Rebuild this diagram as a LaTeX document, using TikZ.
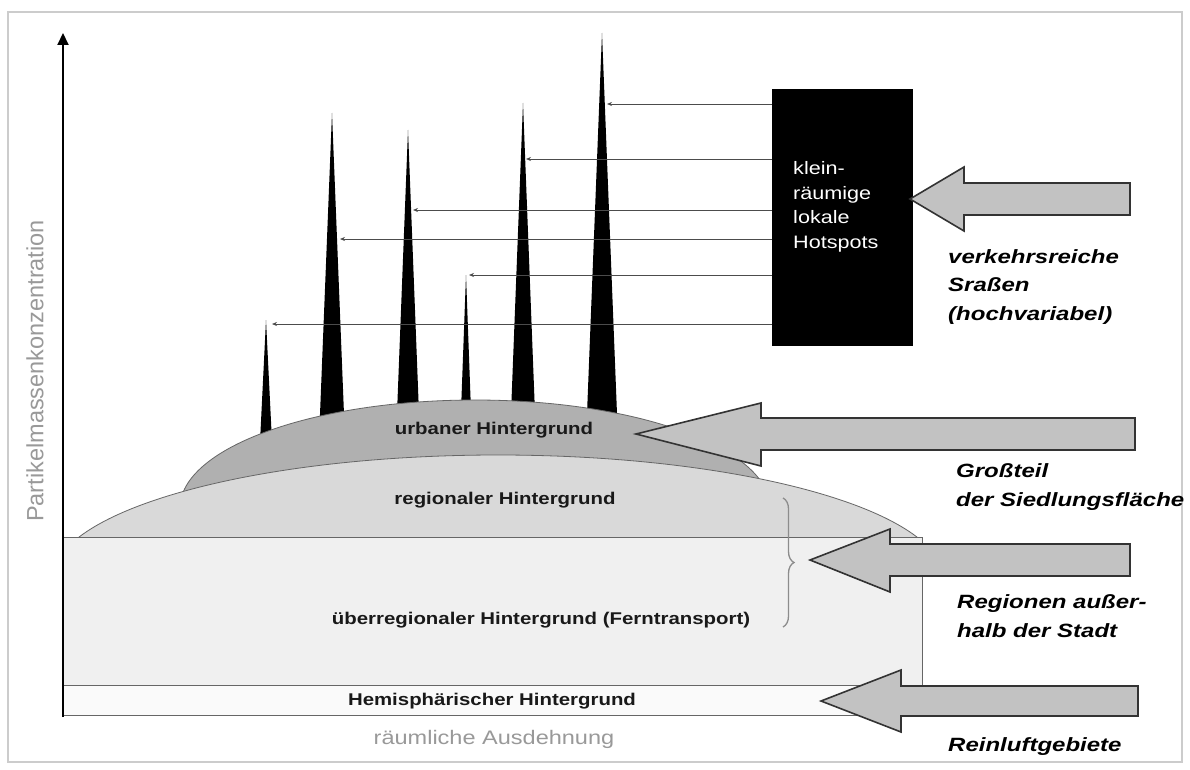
\documentclass[tikz,border=0pt]{standalone}
\usepackage{fontspec}
\setmainfont{Liberation Sans}
\newfontfamily\labfont[FakeStretch=1.2]{Liberation Sans}
\newfontfamily\sidefont[FakeStretch=1.25]{Liberation Sans}
\usetikzlibrary{arrows.meta,decorations.pathreplacing}
\definecolor{urbfill}{gray}{0.69}
\definecolor{regfill}{gray}{0.85}
\definecolor{uebfill}{gray}{0.94}
\definecolor{hemfill}{gray}{0.98}
\definecolor{arrfill}{gray}{0.76}
\definecolor{outl}{gray}{0.4}
\definecolor{axgray}{gray}{0.6}
\definecolor{framegray}{gray}{0.8}
\begin{document}
\begin{tikzpicture}[x=1pt,y=-1pt,
  layer/.style={draw=outl, line width=0.8pt},
  lab/.style={font=\labfont\bfseries\fontsize{17}{20}\selectfont, text=black!90, inner sep=0pt},
  side/.style={font=\sidefont\bfseries\itshape\fontsize{19.2}{28.5}\selectfont, align=left, anchor=west, inner sep=0pt},
  feed/.style={draw=black!70, line width=0.7pt, -{Stealth[length=5pt,width=4pt]}},
  blockarr/.style={fill=arrfill, draw=black!80, line width=1.6pt, line join=miter},
]
\useasboundingbox (0,0) rectangle (1190,770);
\fill[white] (0,0) rectangle (1190,770);
\draw[framegray, line width=2.5pt] (8,12) rectangle (1182,762);

% spikes (hotspots)
\foreach \x/\t/\w in {266/320/13, 332/113/27, 408/130/25, 466/275/13, 523/103/27, 602/33/33}
  \fill[black] ({\x-\w/2},452) -- (\x,\t) -- ({\x+\w/2},452) -- cycle;

% urban dome
\draw[layer, fill=urbfill] (475,508) ellipse [x radius=295, y radius=108];
% regional dome
\begin{scope}
  \clip (0,0) rectangle (1190,537);
  \draw[layer, fill=regfill] (498,580) ellipse [x radius=446, y radius=125];
\end{scope}
% layers
\draw[layer, fill=uebfill] (63,537) rectangle (922,685);
\draw[layer, fill=hemfill] (63,685) rectangle (922,715);

% axis
\coordinate (origin) at (63,717);
\coordinate (ytop) at (63,33);
\draw[line width=2pt, -{Triangle[length=12pt,width=11pt]}] (origin) -- (ytop);

% hotspot box
\node[fill=black, minimum width=141pt, minimum height=257pt, anchor=north west, inner sep=0pt] (hot) at (772,89) {};
\node[anchor=west, align=left, text=white, font=\labfont\fontsize{18}{24.5}\selectfont, inner sep=0pt] (hottext) at (793,207) {klein-\\räumige\\lokale\\Hotspots};

% feed arrows
\coordinate (f6) at (607,104);
\coordinate (f5) at (526,159);
\coordinate (f3) at (413,210);
\coordinate (f2) at (340,239);
\coordinate (f4) at (469,275);
\coordinate (f1) at (272,324);
\foreach \f in {f1,f2,f3,f4,f5,f6}
  \draw[feed] (hot.west |- \f) -- (\f);

% block arrows
\draw[blockarr] (910,199) -- (964,167) -- (964,183) -- (1130,183) -- (1130,215) -- (964,215) -- (964,231) -- cycle;
\draw[blockarr] (636,434) -- (761,403) -- (761,418) -- (1135,418) -- (1135,450) -- (761,450) -- (761,466) -- cycle;
\draw[blockarr] (810,560) -- (890,529) -- (890,544) -- (1130,544) -- (1130,576) -- (890,576) -- (890,592) -- cycle;
\draw[blockarr] (821,701) -- (901,670) -- (901,686) -- (1138,686) -- (1138,716) -- (901,716) -- (901,732) -- cycle;

% brace
\draw[decorate, decoration={brace, amplitude=11pt}, draw=black!45, line width=1.3pt] (783,498) -- (783,627);

% labels
\node[lab] (urb) at (494,430) {urbaner Hintergrund};
\node[lab] (reg) at (505,500) {regionaler Hintergrund};
\node[lab] (ueb) at (541,620) {überregionaler Hintergrund (Ferntransport)};
\node[lab] (hem) at (492,701) {Hemisphärischer Hintergrund};
\node[font=\labfont\fontsize{19.6}{22}\selectfont, text=axgray, inner sep=0pt] (xl) at (494,739) {räumliche Ausdehnung};
\node[rotate=90, font=\fontsize{23.5}{26}\selectfont, text=axgray, inner sep=0pt] (yl) at (35,371) {Partikelmassenkonzentration};

\node[side] (t1) at (948,287) {verkehrsreiche\\Sraßen\\(hochvariabel)};
\node[side] (t2) at (956,487) {Großteil\\der Siedlungsfläche};
\node[side] (t3) at (957,616) {Regionen außer-\\halb der Stadt};
\node[side] (t4) at (948,747) {Reinluftgebiete};
\end{tikzpicture}
\end{document}
